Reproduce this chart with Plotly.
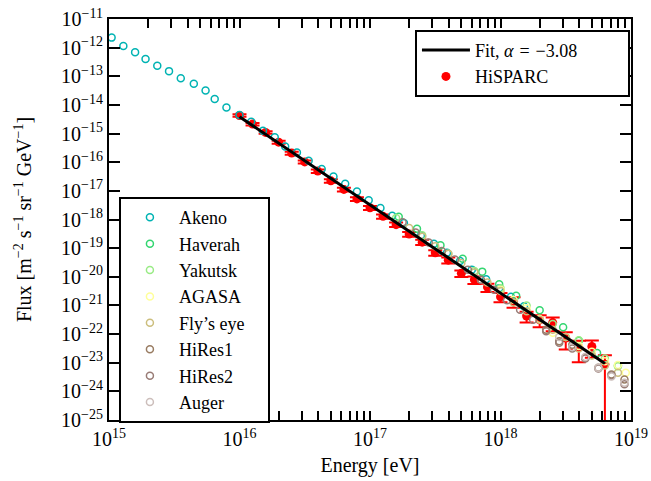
import numpy as np
import plotly.graph_objects as go

# ---------------- data (log10 values) ----------------
hisparc_log_energy = [16.0, 16.1, 16.2, 16.3, 16.4, 16.5, 16.6, 16.7, 16.8, 16.9,
                      17.0, 17.1, 17.2, 17.3, 17.4, 17.5, 17.6, 17.7, 17.8, 17.9,
                      18.0, 18.1, 18.2, 18.3, 18.4, 18.5, 18.6, 18.7, 18.8]
hisparc_log_flux = [-14.37, -14.67, -14.96, -15.30, -15.68, -15.99, -16.31, -16.65, -16.95, -17.28,
                    -17.59, -17.89, -18.18, -18.51, -18.79, -19.16, -19.42, -19.88, -20.10, -20.36,
                    -20.70, -20.86, -21.37, -21.50, -21.60, -22.14, -22.46, -22.43, -23.05]
hisparc_rel_err = [0.10, 0.10, 0.10, 0.12, 0.12, 0.12, 0.14, 0.14, 0.15, 0.15,
                   0.16, 0.17, 0.18, 0.19, 0.20, 0.22, 0.24, 0.26, 0.30, 0.32,
                   0.35, 0.40, 0.40, 0.45, 0.50, 0.60, 0.70, 0.60, 1.05]

fit_log_energy = [16.0, 18.8]
fit_log_flux = [-14.41, -23.03]
fit_label = "Fit, <i>α</i>\u2004=\u2004−3.08"

akeno_log_energy = [15.02, 15.11, 15.20, 15.28, 15.37, 15.46, 15.55, 15.65, 15.74, 15.81,
                    15.90, 16.00, 16.09, 16.18, 16.27, 16.35, 16.44, 16.53, 16.63, 16.72,
                    16.81, 16.90, 16.99, 17.08, 17.17, 17.26, 17.39, 17.49, 17.59, 17.69,
                    17.78, 17.89, 17.99, 18.08, 18.18]
akeno_log_flux = [-11.65, -11.94, -12.16, -12.40, -12.63, -12.82, -13.07, -13.26, -13.50, -13.79,
                  -14.09, -14.35, -14.59, -14.90, -15.13, -15.45, -15.66, -15.95, -16.24, -16.50,
                  -16.75, -17.02, -17.33, -17.60, -17.87, -18.12, -18.56, -18.85, -19.16, -19.45,
                  -19.75, -20.09, -20.40, -20.70, -21.03]

haverah_log_energy = [17.22, 17.36, 17.54, 17.71, 17.86, 17.99, 18.12, 18.30, 18.48, 18.60, 18.74, 18.90]
haverah_log_flux = [-17.90, -18.32, -18.90, -19.37, -19.82, -20.26, -20.66, -21.17, -21.76, -22.23, -22.66, -23.10]

yakutsk_log_energy = [17.20, 17.40, 17.60, 17.80, 18.00, 18.20, 18.40, 18.60, 18.80, 18.90]
yakutsk_log_flux = [-17.95, -18.55, -19.20, -19.80, -20.40, -21.00, -21.65, -22.22, -22.85, -23.12]

agasa_log_energy = [18.00, 18.10, 18.20, 18.30, 18.40, 18.50, 18.60, 18.70, 18.80, 18.90, 18.96]
agasa_log_flux = [-20.45, -20.80, -21.10, -21.47, -21.95, -22.10, -22.42, -22.62, -22.95, -23.08, -23.35]

flyseye_log_energy = [17.30, 17.40, 17.50, 17.60, 17.70, 17.80, 17.90, 18.00, 18.10, 18.20,
                      18.30, 18.40, 18.50, 18.60, 18.70, 18.80, 18.90]
flyseye_log_flux = [-18.30, -18.60, -18.93, -19.20, -19.52, -19.85, -20.20, -20.50, -20.90, -21.20,
                    -21.50, -21.85, -22.10, -22.50, -22.75, -23.10, -23.35]

hires1_log_energy = [18.35, 18.45, 18.55, 18.65, 18.75, 18.85, 18.95]
hires1_log_flux = [-21.85, -22.25, -22.37, -22.83, -23.18, -23.41, -23.59]

hires2_log_energy = [17.25, 17.35, 17.45, 17.55, 17.65, 17.75, 17.85, 17.95, 18.05, 18.15,
                     18.25, 18.35, 18.45, 18.55, 18.65, 18.75, 18.85, 18.95]
hires2_log_flux = [-18.10, -18.45, -18.80, -19.10, -19.40, -19.75, -20.10, -20.45, -20.82, -21.15,
                   -21.50, -21.90, -22.30, -22.50, -22.85, -23.20, -23.45, -23.75]

auger_log_energy = [18.45, 18.55, 18.65, 18.75, 18.85, 18.95]
auger_log_flux = [-22.10, -22.45, -22.80, -23.18, -23.48, -23.70]

experiments = [
    ("Akeno", akeno_log_energy, akeno_log_flux, "#00b3b3"),
    ("Haverah", haverah_log_energy, haverah_log_flux, "#33d670"),
    ("Yakutsk", yakutsk_log_energy, yakutsk_log_flux, "#99eb85"),
    ("AGASA", agasa_log_energy, agasa_log_flux, "#ffff99"),
    ("Fly’s eye", flyseye_log_energy, flyseye_log_flux, "#ccbe7d"),
    ("HiRes1", hires1_log_energy, hires1_log_flux, "#997c62"),
    ("HiRes2", hires2_log_energy, hires2_log_flux, "#997c76"),
    ("Auger", auger_log_energy, auger_log_flux, "#ccbebb"),
]

x_tick_exp = [15, 16, 17, 18, 19]
y_tick_exp = list(range(-25, -10))

FONT = "Liberation Serif"
PAD = "\u00a0"  # invisible padding so the legend boxes get the reference width

# ---------------- figure ----------------
fig = go.Figure()

h_e = 10 ** np.array(hisparc_log_energy)
h_f = 10 ** np.array(hisparc_log_flux)
h_err = h_f * np.array(hisparc_rel_err)

fig.add_trace(go.Scatter(
    x=h_e, y=h_f, mode="markers", name="HiSPARC", legend="legend", legendrank=2,
    marker=dict(color="#ff0000", size=9, symbol="circle"),
    error_y=dict(type="data", array=h_err, color="#ff0000", thickness=2, width=7),
))

for i, (name, le, lf, col) in enumerate(experiments):
    fig.add_trace(go.Scatter(
        x=10 ** np.array(le), y=10 ** np.array(lf), mode="markers", name=name + PAD * 4,
        legend="legend2", legendrank=10 + i,
        marker=dict(symbol="circle-open", size=7, color=col, line=dict(width=1.5, color=col)),
    ))

fig.add_trace(go.Scatter(
    x=10 ** np.array(fit_log_energy), y=10 ** np.array(fit_log_flux), mode="lines",
    name=fit_label + PAD * 10, legend="legend", legendrank=1,
    line=dict(color="black", width=3),
))

W, H = 651, 481
L, R, T, B = 109, 20, 19, 61

axis_common = dict(
    showline=True, linewidth=2, linecolor="black", mirror="ticks",
    ticks="inside", tickcolor="black", tickwidth=1.5, showgrid=False, zeroline=False,
    tickfont=dict(family=FONT, size=20, color="black"),
)

fig.update_xaxes(
    type="log", range=[15, 19],
    tickmode="array",
    tickvals=[10.0 ** e for e in x_tick_exp],
    ticktext=[f"10<sup>{e}</sup>" for e in x_tick_exp],
    ticklen=9,
    minor=dict(ticks="inside", ticklen=9, tickwidth=1.5, tickcolor="black",
               tickvals=[m * 10.0 ** k for k in range(15, 19) for m in range(2, 10)],
               showgrid=False),
    title=dict(text="Energy [eV]", font=dict(family=FONT, size=20, color="black"), standoff=9),
    **axis_common,
)
fig.update_yaxes(
    type="log", range=[-25, -11],
    tickmode="array",
    tickvals=[10.0 ** e for e in y_tick_exp],
    ticktext=[f"10<sup>−{abs(e)}</sup>" for e in y_tick_exp],
    ticklen=11,
    title=dict(text="Flux [m<sup>−2</sup> s<sup>−1</sup> sr<sup>−1</sup> GeV<sup>−1</sup>]",
               font=dict(family=FONT, size=20, color="black"), standoff=24),
    **axis_common,
)

legend_common = dict(
    bgcolor="white", bordercolor="black", borderwidth=2,
    font=dict(family=FONT, size=18, color="black"),
    itemwidth=48, tracegroupgap=0, traceorder="normal",
)

fig.update_layout(
    width=W, height=H,
    margin=dict(l=L, r=R, t=T, b=B, autoexpand=False),
    paper_bgcolor="white", plot_bgcolor="white",
    showlegend=True,
    legend=dict(x=0.998, y=0.973, xanchor="right", yanchor="top", **legend_common),
    legend2=dict(x=0.019, y=0.556, xanchor="left", yanchor="top", **legend_common),
)

fig.write_html("out.html")
